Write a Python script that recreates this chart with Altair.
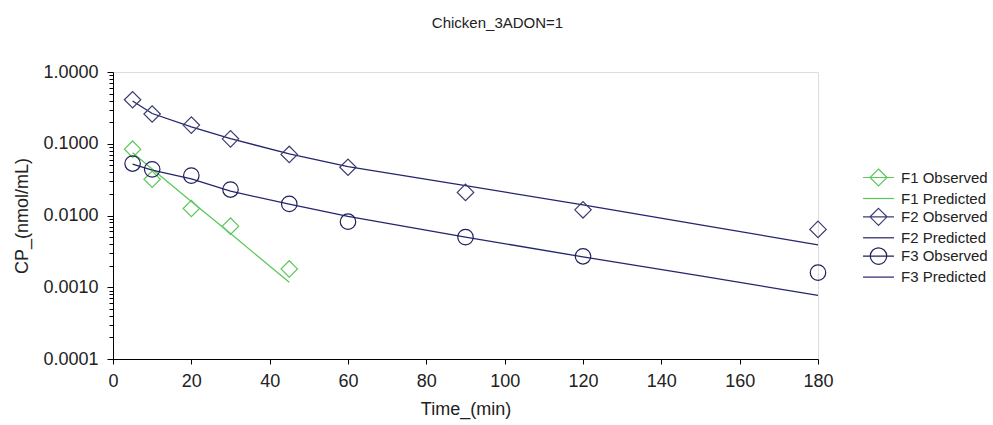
import altair as alt
import pandas as pd

# ---- data ----
series_labels = ["F1 Observed", "F1 Predicted", "F2 Observed", "F2 Predicted", "F3 Observed", "F3 Predicted"]

obs_time_f1 = [5, 10, 20, 30, 45]
obs_f1 = [0.084, 0.032, 0.0125, 0.0071, 0.0018]

obs_time = [5, 10, 20, 30, 45, 60, 90, 120, 180]
obs_f2 = [0.41, 0.26, 0.182, 0.117, 0.071, 0.047, 0.021, 0.012, 0.0064]
obs_f3 = [0.053, 0.044, 0.036, 0.023, 0.0145, 0.0082, 0.0050, 0.0027, 0.0016]

pred_time_f1 = [5, 10, 20, 30, 45]
pred_f1 = [0.075, 0.0444, 0.0157, 0.0056, 0.00117]

pred_time = [5, 10, 20, 30, 45, 60, 90, 120, 150, 180]
pred_f2 = [0.395, 0.264, 0.172, 0.118, 0.072, 0.048, 0.026, 0.0141, 0.0074, 0.0039]
pred_f3 = [0.052, 0.043, 0.0325, 0.0218, 0.0144, 0.0097, 0.0050, 0.00265, 0.00144, 0.00077]

x_ticks = [0, 20, 40, 60, 80, 100, 120, 140, 160, 180]
y_major = [0.0001, 0.001, 0.01, 0.1, 1.0]

# ---- tables ----
rows = []
for t, v in zip(obs_time_f1, obs_f1):
    rows.append({"time": t, "cp": v, "series": "F1 Observed"})
for t, v in zip(obs_time, obs_f2):
    rows.append({"time": t, "cp": v, "series": "F2 Observed"})
for t, v in zip(obs_time, obs_f3):
    rows.append({"time": t, "cp": v, "series": "F3 Observed"})
for t, v in zip(pred_time_f1, pred_f1):
    rows.append({"time": t, "cp": v, "series": "F1 Predicted"})
for t, v in zip(pred_time, pred_f2):
    rows.append({"time": t, "cp": v, "series": "F2 Predicted"})
for t, v in zip(pred_time, pred_f3):
    rows.append({"time": t, "cp": v, "series": "F3 Predicted"})
df = pd.DataFrame(rows)

y_values = []
for d in y_major[:-1]:
    for k in range(1, 10):
        y_values.append(round(d * k, 6))
y_values.append(1.0)

FONT = "Liberation Sans"
GREEN = "#5cc85c"
NAVY_LINE = "#25256e"
NAVY_DIAMOND = "#3c3c72"
NAVY_CIRCLE = "#1f1f5c"

major_test = "abs(log(datum.value)/LN10 - round(log(datum.value)/LN10)) < 0.000001"

x_enc = alt.X(
    "time:Q",
    scale=alt.Scale(domain=[0, 180], nice=False, zero=False),
    axis=alt.Axis(
        values=x_ticks, title="Time_(min)", grid=False,
        labelFont=FONT, labelFontSize=18, labelColor="#222222", labelPadding=8,
        titleFont=FONT, titleFontSize=18, titleFontWeight="normal", titleColor="#222222",
        titlePadding=10, tickSize=5, tickColor="black", domainColor="black",
        labelFlush=False,
    ),
)
y_enc = alt.Y(
    "cp:Q",
    scale=alt.Scale(type="log", domain=[0.0001, 1], nice=False),
    axis=alt.Axis(
        values=y_values, title="CP_(nmol/mL)", grid=False,
        labelExpr=f"{major_test} ? format(datum.value, '.4f') : ''",
        labelFont=FONT, labelFontSize=18, labelColor="#222222", labelPadding=9,
        titleFont=FONT, titleFontSize=18, titleFontWeight="normal", titleColor="#222222",
        titlePadding=11,
        tickSize=alt.condition(major_test, alt.value(6), alt.value(4)),
        tickColor="black", domainColor="black", labelFlush=False,
        labelOverlap=False,
    ),
)

base = alt.Chart(df).encode(x=x_enc, y=y_enc)

line_f1 = base.transform_filter(alt.datum.series == "F1 Predicted").mark_line(
    color=GREEN, strokeWidth=1.3)
line_f23 = base.transform_filter(
    (alt.datum.series == "F2 Predicted") | (alt.datum.series == "F3 Predicted")
).mark_line(color=NAVY_LINE, strokeWidth=1.3).encode(detail="series:N")

pts_f1 = base.transform_filter(alt.datum.series == "F1 Observed").mark_point(
    shape="diamond", size=270, filled=False, color=GREEN, strokeWidth=1.2, opacity=1)
pts_f2 = base.transform_filter(alt.datum.series == "F2 Observed").mark_point(
    shape="diamond", size=270, filled=False, color=NAVY_DIAMOND, strokeWidth=1.2, opacity=1)
pts_f3 = base.transform_filter(alt.datum.series == "F3 Observed").mark_point(
    shape="circle", size=240, filled=False, color=NAVY_CIRCLE, strokeWidth=1.2, opacity=1)

# legend-only layer (invisible marks, legend symbols combine line + marker)
diamond_line = "M-1.82,0L1.82,0M0,-1L1,0L0,1L-1,0Z"
circle_line = "M-1.82,0L1.82,0M-0.97,0A0.97,0.97,0,1,0,0.97,0A0.97,0.97,0,1,0,-0.97,0Z"
plain_line = "M-1.82,0L1.82,0"
legend_colors = [GREEN, GREEN, NAVY_DIAMOND, NAVY_LINE, NAVY_CIRCLE, NAVY_LINE]
legend_shapes = [diamond_line, plain_line, diamond_line, plain_line, circle_line, plain_line]

legend_layer = base.mark_point(filled=False, opacity=0, size=1).encode(
    color=alt.Color(
        "series:N",
        scale=alt.Scale(domain=series_labels, range=legend_colors),
        legend=alt.Legend(
            orient="none", legendX=756, legendY=96, title=None,
            symbolSize=289, symbolStrokeWidth=1.2, symbolOpacity=1,
            labelFont=FONT, labelFontSize=15, labelColor="#222222",
            labelOffset=13, rowPadding=-1.7, padding=0, offset=0,
        ),
    ),
    shape=alt.Shape(
        "series:N",
        scale=alt.Scale(domain=series_labels, range=legend_shapes),
    ),
)

chart = alt.layer(
    line_f1, line_f23, pts_f1, pts_f2, pts_f3, legend_layer
).properties(
    width=705,
    height=287,
    title=alt.TitleParams(
        "Chicken_3ADON=1", font=FONT, fontSize=15, fontWeight="normal",
        color="#222222", anchor="middle", dx=32, offset=20, baseline="alphabetic",
    ),
    autosize=alt.AutoSizeParams(type="none"),
    padding={"left": 113, "top": 72, "right": 175, "bottom": 66},
).configure_view(stroke=None).configure(background="white")

chart.save("out.html", embed_options={"renderer": "svg", "actions": False})
